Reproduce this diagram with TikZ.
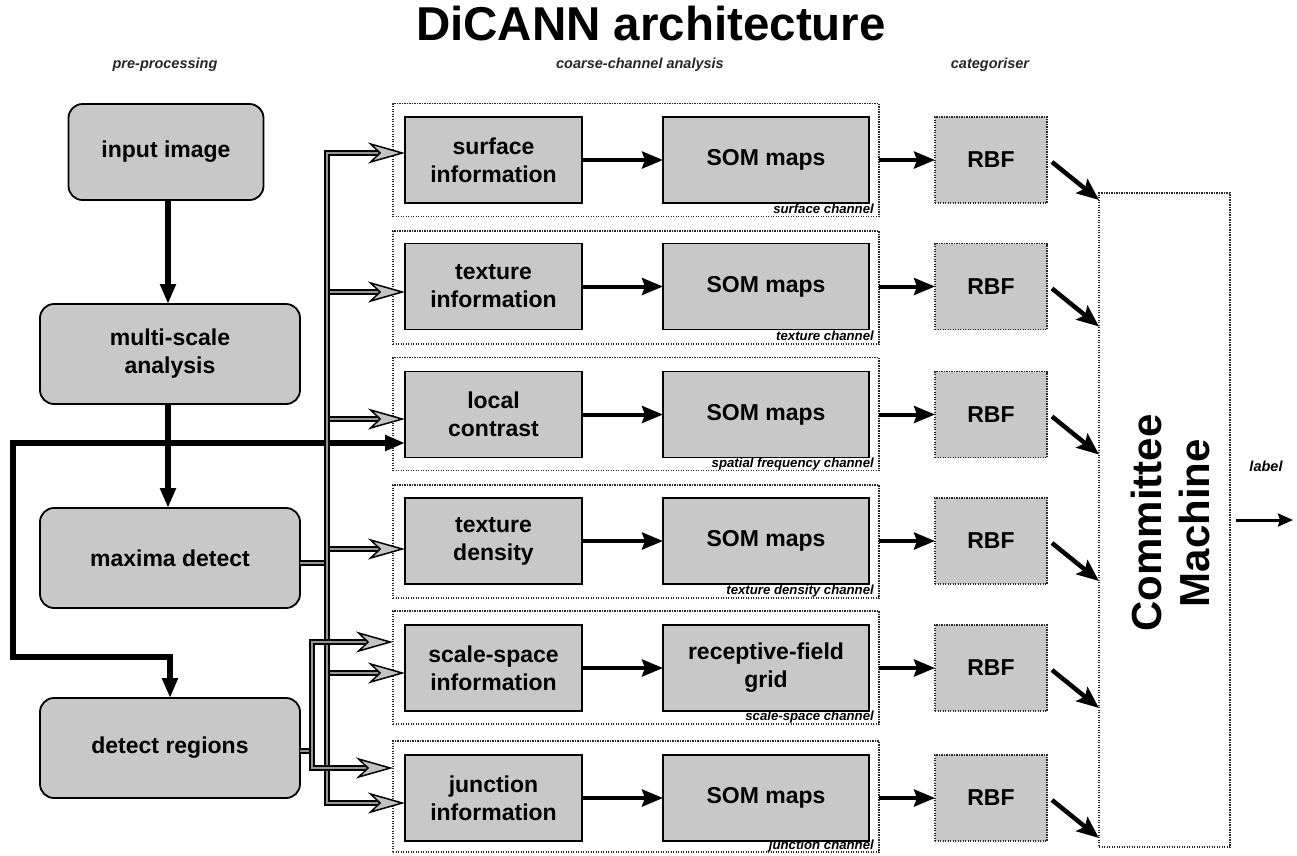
\documentclass[tikz,border=0pt]{standalone}
\usepackage{fontspec}
\setmainfont{Liberation Sans}
\usetikzlibrary{arrows.meta,calc}
\definecolor{boxgray}{RGB}{200,200,200}
\definecolor{busgray}{RGB}{150,150,150}
\definecolor{tipgray}{RGB}{195,195,195}
\newcommand{\bustip}[1]{\draw[htip] ($(#1)+(-3,0)$) -- (#1);}
\begin{document}
\begin{tikzpicture}[x=1pt,y=-1pt,
 lbox/.style={draw, line width=1.8pt, fill=boxgray, rounded corners=14pt, minimum width=260pt, minimum height=100pt, inner sep=0pt, outer sep=0pt, align=center, font=\fontsize{23}{28}\selectfont\bfseries},
 ibox/.style={draw, line width=1.8pt, fill=boxgray, minimum width=177pt, minimum height=86pt, inner sep=0pt, outer sep=0pt, align=center, font=\fontsize{23}{28}\selectfont\bfseries},
 sbox/.style={ibox, minimum width=206pt},
 rbox/.style={draw=black!85, dash pattern=on 1.4pt off 1.1pt, line width=1.5pt, fill=boxgray, minimum width=112pt, minimum height=86pt, inner sep=0pt, outer sep=0pt, font=\fontsize{23}{28}\selectfont\bfseries},
 frame/.style={draw=black!85, dash pattern=on 1.4pt off 1.1pt, line width=1.3pt, minimum width=486pt, minimum height=113pt, inner sep=0pt, outer sep=0pt},
 chlabel/.style={anchor=base east, inner sep=0pt, font=\fontsize{13.2}{15}\selectfont\bfseries\itshape},
 head/.style={font=\fontsize{14.5}{16}\selectfont\bfseries\itshape, text=black!85},
 thk/.style={line width=5.8pt, -{Triangle[length=20pt,width=15pt]}},
 mid/.style={line width=4pt, -{Stealth[length=21pt,width=17pt,inset=3pt]}},
 diag/.style={line width=4.5pt, -{Stealth[length=22pt,width=18pt,inset=4pt]}},
 lab/.style={line width=3pt, -{Stealth[length=15pt,width=13pt,inset=2pt]}},
 bus/.style={double=busgray, double distance=2.4pt, line width=1.5pt},
 htip/.style={line width=0.5pt, -{Stealth[length=37pt,width=21pt,inset=11pt,fill=tipgray,line width=1.5pt]}}
]
\useasboundingbox (0,0) rectangle (1297,855);

% title and headings
\node[font=\fontsize{47.5}{50}\selectfont\bfseries, anchor=base, inner sep=0pt] (title) at (651,40) {DiCANN architecture};
\node[head] (h1) at (165,65) {pre-processing};
\node[head] (h2) at (640,65) {coarse-channel analysis};
\node[head] (h3) at (990,65) {categoriser};

% left boxes
\node[lbox, minimum width=195pt, minimum height=96pt] (inp) at (166,152) {input image};
\node[lbox] (msa) at (170,354) {multi-scale\\analysis};
\node[lbox] (mxd) at (170,558) {maxima detect};
\node[lbox] (dtr) at (170,748) {detect regions};

% channel frames
\node[frame] (f1) at (636,160) {};
\node[frame] (f2) at (636,287.5) {};
\node[frame] (f3) at (636,414) {};
\node[frame] (f4) at (636,541.5) {};
\node[frame] (f5) at (636,667.5) {};
\node[frame, minimum height=111pt] (f6) at (636,796.5) {};

\node[chlabel] (c1) at (874,213) {surface channel};
\node[chlabel] (c2) at (874,340) {texture channel};
\node[chlabel] (c3) at (874,467) {spatial frequency channel};
\node[chlabel] (c4) at (874,594) {texture density channel};
\node[chlabel] (c5) at (874,720) {scale-space channel};
\node[chlabel] (c6) at (874,849) {junction channel};

% info boxes
\node[ibox] (i1) at (493.5,160) {surface\\information};
\node[ibox] (i2) at (493.5,286.5) {texture\\information};
\node[ibox] (i3) at (493.5,414.5) {local\\contrast};
\node[ibox] (i4) at (493.5,541) {texture\\density};
\node[ibox] (i5) at (493.5,668) {scale-space\\information};
\node[ibox] (i6) at (493.5,798) {junction\\information};

% SOM boxes
\node[sbox] (s1) at (766,160) {SOM maps};
\node[sbox] (s2) at (766,286.5) {SOM maps};
\node[sbox] (s3) at (766,414.5) {SOM maps};
\node[sbox] (s4) at (766,541) {SOM maps};
\node[sbox] (s5) at (766,668) {receptive-field\\grid};
\node[sbox] (s6) at (766,798) {SOM maps};

% RBF boxes
\node[rbox] (r1) at (991,160) {RBF};
\node[rbox] (r2) at (991,286.5) {RBF};
\node[rbox] (r3) at (991,414.5) {RBF};
\node[rbox] (r4) at (991,541) {RBF};
\node[rbox] (r5) at (991,668) {RBF};
\node[rbox] (r6) at (991,798) {RBF};

% committee machine
\node[frame, minimum width=131pt, minimum height=654pt] (cm) at (1164.5,520) {};
\node[rotate=90, align=center, inner sep=0pt, font=\fontsize{42}{48}\selectfont\bfseries] (cmt) at (1170,523) {Committee\\Machine};

% label
\node[font=\fontsize{14.5}{16}\selectfont\bfseries\itshape] (lbl) at (1266,466) {label};
\coordinate (lend) at (1293,520);
\draw[lab] ([xshift=6pt]cm.east) -- (lend);

% left vertical flow
\draw[thk] (inp.south -| 168,0) -- (msa.north -| 168,0);
\draw[thk] (msa.south -| 168,0) -- (mxd.north -| 168,0);
\coordinate (jl) at (13,443);
\coordinate (jb) at (13,657);
\draw[thk] (jl) -- (jl -| i3.west);
\draw[thk, line cap=rect] (jl) -- (jb) -- (jb -| dtr.north) -- (dtr.north);

% bus coordinates
\coordinate (p1) at (327,153);
\coordinate (p2) at (327,292);
\coordinate (p3) at (327,419);
\coordinate (p4) at (327,549);
\coordinate (p5) at (327,673);
\coordinate (p6) at (327,803);
\coordinate (pm) at (327,563);
\coordinate (q5) at (312,642);
\coordinate (q6) at (312,768);
\coordinate (qd) at (312,751);

\coordinate (t1) at (p1 -| i1.west);
\coordinate (t2) at (p2 -| i2.west);
\coordinate (t3) at (p3 -| i3.west);
\coordinate (t4) at (p4 -| i4.west);
\coordinate (t5) at (p5 -| i5.west);
\coordinate (t6) at (p6 -| i6.west);
\coordinate (u5) at (q5 -| f5.west);
\coordinate (u6) at (q6 -| f6.west);

% main bus
\draw[bus, shorten >=22pt] (p2) -- (t2);
\draw[bus, shorten >=22pt] (p3) -- (t3);
\draw[bus, shorten >=22pt] (p4) -- (t4);
\draw[bus, shorten >=22pt] (p5) -- (t5);
\draw[bus] (mxd.east |- pm) -- (pm);
\draw[bus, shorten <=22pt, shorten >=22pt] (t1) -- (p1) -- (p6) -- (t6);
% second bus
\draw[bus] (dtr.east |- qd) -- (qd);
\draw[bus, shorten <=22pt, shorten >=22pt] (u5) -- (q5) -- (q6) -- (u6);

\bustip{t1}
\bustip{t2}
\bustip{t3}
\bustip{t4}
\bustip{t5}
\bustip{t6}
\bustip{u5}
\bustip{u6}

% channel arrows
\foreach \k in {1,...,6}{
  \draw[mid] (i\k) -- (s\k);
  \draw[mid] (f\k.east |- s\k.east) -- (r\k);
  \draw[diag] ($(r\k.east)+(5,2)$) -- ($(r\k.east -| cm.west)+(0,40)$);
}
\end{tikzpicture}
\end{document}
